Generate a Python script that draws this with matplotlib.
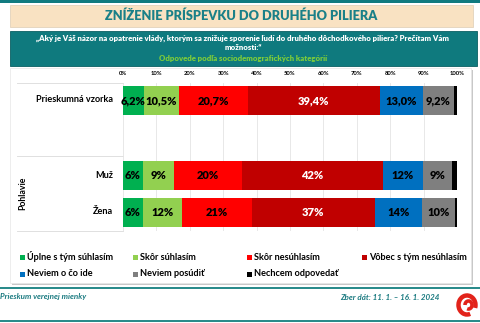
import numpy as np
import matplotlib
matplotlib.use("Agg")
import matplotlib.pyplot as plt
from matplotlib.patches import Rectangle, Arc

plt.rcParams['font.family'] = ['Lato', 'DejaVu Sans']

# odpovede a farby
answers = ["Úplne s tým súhlasím", "Skôr súhlasím", "Skôr nesúhlasím",
           "Vôbec s tým nesúhlasím", "Neviem o čo ide", "Neviem posúdiť",
           "Nechcem odpovedať"]
colors = ["#00b050", "#92d050", "#ff0000", "#c00000", "#0070c0", "#7f7f7f", "#000000"]
text_colors = ["black", "black", "black", "white", "black", "black", None]

rows = ["Prieskumná vzorka", "Muž", "Žena"]
vzorka = [6.2, 10.5, 20.7, 39.4, 13.0, 9.2, 1.0]
muz = [6.0, 9.4, 20.2, 42.3, 11.8, 8.7, 1.6]
zena = [6.0, 11.6, 21.0, 36.8, 14.1, 9.9, 0.6]
values = [vzorka, muz, zena]
label_fmt = ["{:.1f}%", "{:.0f}%", "{:.0f}%"]

ticks = np.arange(0, 101, 10)

W, H = 480, 323
fig = plt.figure(figsize=(W / 100, H / 100), dpi=100)

# pozadie v pixelovych suradniciach
bg = fig.add_axes([0, 0, 1, 1])
bg.set_xlim(0, W)
bg.set_ylim(H, 0)
bg.axis("off")

teal = "#117b80"
bg.add_patch(Rectangle((0, 0), W, 2.5, color=teal, lw=0))
bg.add_patch(Rectangle((10, 4.5), 463, 22.5, facecolor="#f9e2c2", edgecolor="#e3d3bb", lw=0.6))
bg.text(241, 16, "ZNÍŽENIE PRÍSPEVKU DO DRUHÉHO PILIERA", color="#1a8088",
        fontsize=9.2, fontweight="heavy", ha="center", va="center")
bg.add_patch(Rectangle((10, 31), 467, 34.5, facecolor="#0f7a7e", edgecolor="#0a5f62", lw=0.6))
bg.text(243, 38.5, "„Aký je Váš názor na opatrenie vlády, ktorým sa znižuje sporenie ľudí do druhého dôchodkového piliera? Prečítam Vám",
        color="white", fontsize=5.6, fontweight="heavy", ha="center", va="center")
bg.text(243, 48, "možnosti:“", color="white", fontsize=5.6, fontweight="heavy",
        ha="center", va="center")
bg.text(243, 58.5, "Odpovede podľa sociodemografických kategórií", color="#7ccc3a",
        fontsize=5.6, fontweight="heavy", ha="center", va="center")

# biely panel s tienom
bg.add_patch(Rectangle((12, 70), 461, 215, facecolor="#c8c8c8", lw=0))
bg.add_patch(Rectangle((10, 68), 461, 215, facecolor="white", edgecolor="#e6e6e6", lw=0.5))

# oddelovacie ciary a popisy riadkov
for yy in (83, 156, 231):
    bg.plot([17, 123], [yy, yy], color="#e0e0e0", lw=0.7)
bg.text(113, 100, rows[0], fontsize=6.6, fontweight="bold", ha="right", va="center")
bg.text(113, 175, rows[1], fontsize=6.6, fontweight="bold", ha="right", va="center")
bg.text(113, 212, rows[2], fontsize=6.6, fontweight="bold", ha="right", va="center")
bg.text(23, 193, "Pohlavie", fontsize=6.3, fontweight="bold", rotation=90,
        ha="center", va="center")

# legenda
leg_x = [20, 133, 247, 362]
leg_y = [257, 274]
for i, name in enumerate(answers):
    x = leg_x[i % 4]
    y = leg_y[i // 4]
    bg.add_patch(Rectangle((x, y - 2.5), 5, 5, color=colors[i], lw=0))
    bg.text(x + 7, y, name, fontsize=6.6, fontweight="bold", ha="left", va="center")

# paticka
bg.add_patch(Rectangle((0, 287), W, 2, color="#2a8b8b", lw=0))
bg.add_patch(Rectangle((0, 319.5), W, 2, color="#2a8b8b", lw=0))
bg.text(0, 297, "Prieskum verejnej mienky", color="#1a7a80", fontsize=5.8,
        fontstyle="italic", fontweight="bold", ha="left", va="center")
bg.text(440, 297, "Zber dát: 11. 1. – 16. 1. 2024", color="#1a7a80", fontsize=5.8,
        fontstyle="italic", fontweight="bold", ha="right", va="center")
bg.add_patch(Arc((467, 305), 17, 19, theta1=70, theta2=380, color="#e2231a", lw=3.2))
bg.add_patch(Arc((468.5, 305), 7, 8, theta1=180, theta2=470, color="#e2231a", lw=2.6))

# graf
ax = fig.add_axes([123 / W, 1 - 231 / H, (457 - 123) / W, (231 - 83) / H])
ax.set_xlim(0, 100)
ax.set_ylim(231, 83)
ax.patch.set_alpha(0)
for s in ax.spines.values():
    s.set_visible(False)
ax.set_xticks(ticks)
ax.set_xticklabels([f"{t}%" for t in ticks], fontsize=4.2, fontweight="bold")
ax.xaxis.tick_top()
ax.tick_params(axis="x", length=0, pad=5)
ax.set_yticks([])
ax.grid(axis="x", color="#e4e4e4", lw=0.6)
ax.set_axisbelow(True)

row_y = [100.5, 175.5, 212.5]
bar_h = 29
for r, vals in enumerate(values):
    left = 0
    for i, v in enumerate(vals):
        ax.barh(row_y[r], v, left=left, height=bar_h, color=colors[i], lw=0)
        if text_colors[i] is not None:
            ax.text(left + v / 2, row_y[r], label_fmt[r].format(v).replace(".", ","),
                    color=text_colors[i], fontsize=8, fontweight="heavy",
                    ha="center", va="center")
        left += v

fig.savefig("out.png", dpi=100)
